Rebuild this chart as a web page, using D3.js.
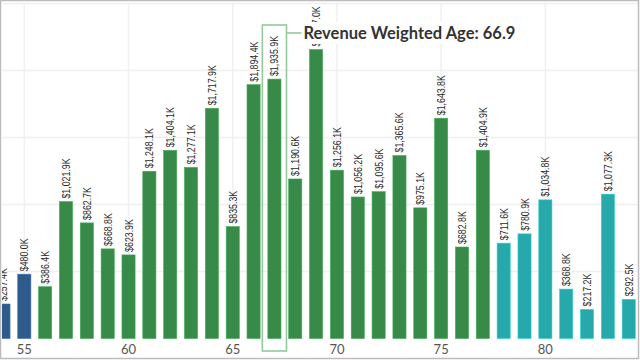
<!DOCTYPE html>
<html>
<head>
<meta charset="utf-8">
<script src="https://cdn.jsdelivr.net/npm/d3@7"></script>
<style>
  html, body { margin: 0; padding: 0; background: #fff; }
  svg { display: block; }
</style>
</head>
<body>
<svg id="chart" width="640" height="360"></svg>
<script>
// ---- data ----
const ages = [54,55,56,57,58,59,60,61,62,63,64,65,66,67,68,69,70,71,72,73,74,75,76,77,78,79,80,81,82,83,84];
const revenueK = [257.4,480.0,386.4,1021.9,862.7,668.8,623.9,1248.1,1404.1,1277.1,1717.9,835.3,1894.4,1935.9,1190.6,2157.0,1256.1,1056.2,1095.6,1365.6,975.1,1643.8,682.8,1404.9,711.6,780.9,1034.8,368.8,217.2,1077.3,292.5];
const segments = ["young","young","core","core","core","core","core","core","core","core","core","core","core","core","core","core","core","core","core","core","core","core","core","core","senior","senior","senior","senior","senior","senior","senior"];
const segmentNames = ["young","core","senior"];
const segmentColors = ["#2e5b8c","#378a47","#27a8ab"];
const xTickValues = [55,60,65,70,75,80];
const yTickValuesK = [0,500,1000,1500,2000,2500];
const weightedAge = 66.9;
const annotationLabel = "Revenue Weighted Age: " + weightedAge;

// ---- layout ----
const W = 640, H = 360;
const plot = {left: 2, right: 638, top: 2, bottom: 338.5};
const svg = d3.select("#chart");

const x = d3.scaleBand().domain(ages).range([-10.8, 643]).paddingInner(0.37).paddingOuter(0.37);
const y = d3.scaleLinear().domain([0, 2500]).range([plot.bottom, 3.5]);
const color = d3.scaleOrdinal().domain(segmentNames).range(segmentColors);
const cx = a => x(a) + x.bandwidth() / 2;

svg.append("defs").append("clipPath").attr("id", "plotclip")
  .append("rect").attr("x", plot.left).attr("y", 0).attr("width", plot.right - plot.left).attr("height", H);

const g = svg.append("g").attr("clip-path", "url(#plotclip)");

// gridlines
g.append("g").selectAll("line").data(yTickValuesK.slice(1)).join("line")
  .attr("x1", plot.left).attr("x2", plot.right)
  .attr("y1", d => y(d)).attr("y2", d => y(d))
  .attr("stroke", "#f0f0f0").attr("stroke-width", 1.5);
g.append("g").selectAll("line").data(xTickValues).join("line")
  .attr("x1", d => cx(d)).attr("x2", d => cx(d))
  .attr("y1", y(2500)).attr("y2", plot.bottom)
  .attr("stroke", "#f0f0f0").attr("stroke-width", 1.5);

// bars
const data = ages.map((a, i) => ({age: a, v: revenueK[i], seg: segments[i]}));
g.append("g").selectAll("rect").data(data).join("rect")
  .attr("x", d => x(d.age)).attr("width", x.bandwidth())
  .attr("y", d => y(d.v)).attr("height", d => y(0) - y(d.v))
  .attr("fill", d => color(d.seg))
  .attr("stroke", d => d3.color(color(d.seg)).brighter(0.6)).attr("stroke-width", 0.6);

// value labels (condensed)
const fmt = v => "$" + d3.format(",.1f")(v) + "K";
g.append("g").selectAll("text").data(data).join("text")
  .attr("transform", d => `translate(${cx(d.age) + 4},${y(d.v) - 3}) rotate(-90) scale(0.8,1)`)
  .attr("text-anchor", "start")
  .attr("font-family", "'Liberation Sans', Arial, sans-serif")
  .attr("font-size", 11)
  .attr("fill", "#2a2a2a")
  .text(d => fmt(d.v));

// x axis
const xAxis = d3.axisBottom(x).tickValues(xTickValues).tickSize(0).tickPadding(6);
const ax = svg.append("g").attr("transform", `translate(0,${plot.bottom})`).call(xAxis);
ax.select(".domain").remove();
ax.selectAll("text").attr("font-family", "Lato, sans-serif").attr("font-size", 13).attr("fill", "#555");

// annotation
const aAge = Math.round(weightedAge);
const ann = svg.append("g");
const boxL = x(aAge) - 5.5, boxR = x(aAge) + x.bandwidth() + 5.5;
ann.append("rect")
  .attr("x", boxL).attr("y", 25).attr("width", boxR - boxL).attr("height", 326)
  .attr("fill", "none").attr("stroke", "#95c89f").attr("stroke-width", 1.6);
ann.append("line")
  .attr("x1", boxR).attr("x2", boxR + 15).attr("y1", 33).attr("y2", 33)
  .attr("stroke", "#95c89f").attr("stroke-width", 1.6);
const bg = ann.append("rect").attr("fill", "#fff");
const at = ann.append("text")
  .attr("x", boxR + 17).attr("y", 39)
  .attr("font-family", "Lato, sans-serif").attr("font-weight", 700).attr("font-size", 16.5)
  .attr("fill", "#333").text(annotationLabel);
const bb = at.node().getBBox();
bg.attr("x", bb.x - 1).attr("y", bb.y - 1).attr("width", bb.width + 2).attr("height", bb.height + 2);

// border
svg.append("rect").attr("x", 0.5).attr("y", 0.5).attr("width", W - 2).attr("height", H - 2)
  .attr("fill", "none").attr("stroke", "#bcbcbc").attr("stroke-width", 1.5);
</script>
</body>
</html>
